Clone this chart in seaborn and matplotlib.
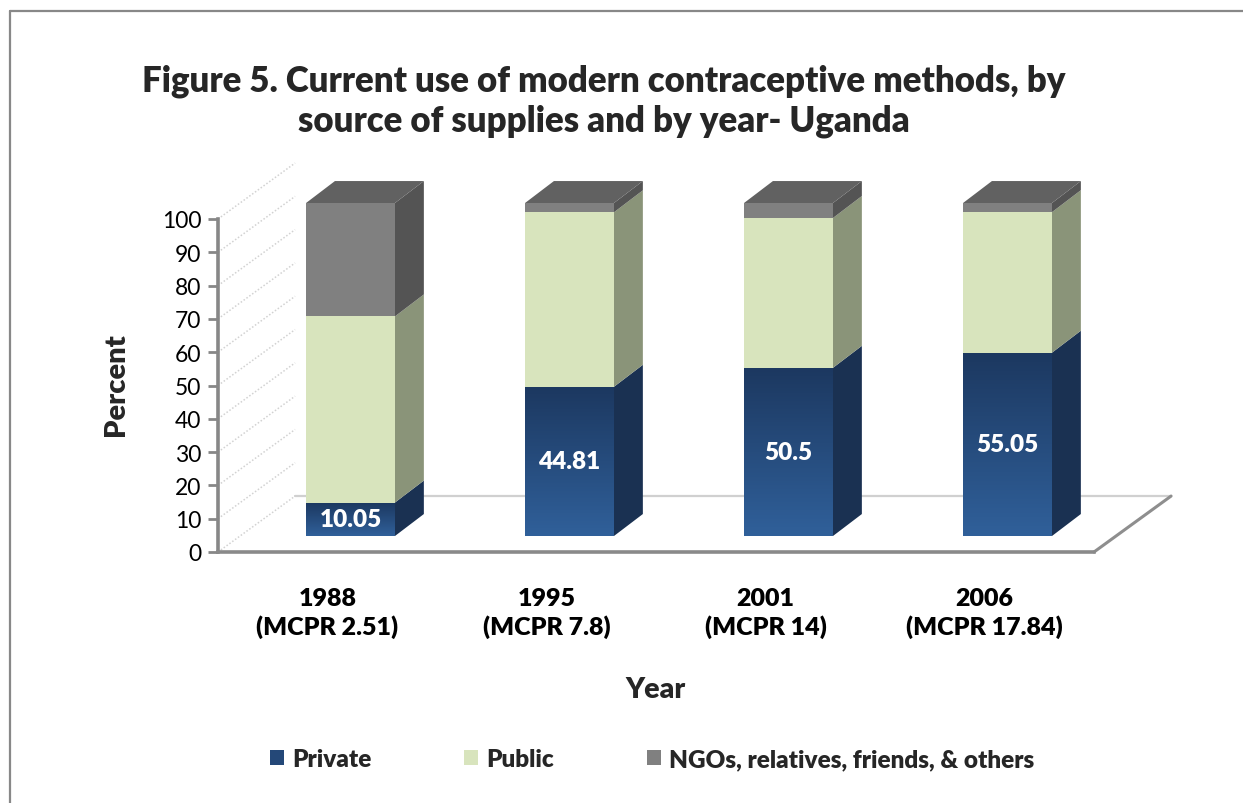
import numpy as np
import pandas as pd
import matplotlib
matplotlib.use("Agg")
import matplotlib.pyplot as plt
import seaborn as sns
from matplotlib.patches import Polygon, Patch
from matplotlib.colors import LinearSegmentedColormap
from matplotlib.lines import Line2D

# ---- data -------------------------------------------------------------
years = ["1988", "1995", "2001", "2006"]
mcpr = ["2.51", "7.8", "14", "17.84"]
private = [10.05, 44.81, 50.5, 55.05]
public = [55.9, 52.4, 45.0, 42.2]
others = [34.05, 2.79, 4.5, 2.75]
series_names = ["Private", "Public", "NGOs, relatives, friends, & others"]
y_ticks = [0, 10, 20, 30, 40, 50, 60, 70, 80, 90, 100]

# ---- style ------------------------------------------------------------
FRONT = {"Private": "#2a538a", "Public": "#d8e4bd", "Others": "#808080"}
SIDE = {"Private": "#1a3152", "Public": "#8a9479", "Others": "#545454"}
TOP_COLOR = "#616161"
AXIS_GREY = "#878787"
BOLD = "heavy"

# pseudo-3D geometry in data units (category units / percent units)
BAR_WIDTH = 0.406
SHIFT_X, SHIFT_Y = 0.105, 4.8      # bars sit part-way back on the floor
DEPTH_X, DEPTH_Y = 0.132, 6.6      # bar depth
FLOOR_X, FLOOR_Y = 0.352, 16.8     # floor depth

sns.set_theme(style="white")
plt.rcParams["font.family"] = ["Lato", "DejaVu Sans"]

W, H = 1243, 804
fig = plt.figure(figsize=(W / 100, H / 100), dpi=100)
fig.patch.set_facecolor("white")
ax = fig.add_axes([218 / W, 1 - 553 / H, 876 / W, 333 / H])
ax.set_facecolor("none")

df = pd.DataFrame({
    "label": [f"{y}\n(MCPR {m})" for y, m in zip(years, mcpr)],
    "private": private,
    "public": public,
    "others": others,
})
df["cum_public"] = df["private"] + df["public"]
df["total"] = df["cum_public"] + df["others"]


def layer(col, color):
    n0 = len(ax.patches)
    sns.barplot(data=df, x="label", y=col, color=color, width=BAR_WIDTH,
                saturation=1, errorbar=None, linewidth=0, ax=ax, zorder=3)
    new = ax.patches[n0:]
    for p in new:
        p.set_x(p.get_x() + SHIFT_X)
        p.set_y(p.get_y() + SHIFT_Y)
        p.set_clip_on(False)
    return new


# floor and side-wall grid
x_left, x_right = -0.5, len(years) - 0.5
floor = Polygon([(x_left, 0), (x_right, 0), (x_right + FLOOR_X, FLOOR_Y),
                 (x_left + FLOOR_X, FLOOR_Y)], closed=True,
                facecolor="white", edgecolor="none", zorder=0.5, clip_on=False)
ax.add_patch(floor)
ax.plot([x_left + FLOOR_X, x_right + FLOOR_X], [FLOOR_Y, FLOOR_Y],
        color="#d0d0d0", lw=1.6, zorder=0.8, clip_on=False)
ax.plot([x_right, x_right + FLOOR_X], [0, FLOOR_Y],
        color="#8e8e8e", lw=2.2, zorder=0.8, clip_on=False)
for t in y_ticks:
    ax.plot([x_left, x_left + FLOOR_X], [t, t + FLOOR_Y], color="#d2d2d2",
            lw=1.1, ls=(0, (1, 1.3)), zorder=0.7, clip_on=False)

# stacked front faces (tallest first, each layer covers the one beneath)
tot_p = layer("total", FRONT["Others"])
pub_p = layer("cum_public", FRONT["Public"])
pri_p = layer("private", FRONT["Private"])

blue_cmap = LinearSegmentedColormap.from_list("blue_face", ["#30609a", "#1c3860"])
grad = np.linspace(0, 1, 256).reshape(-1, 1)

for i in range(len(years)):
    x0 = pri_p[i].get_x()
    x1 = x0 + pri_p[i].get_width()
    base = pri_p[i].get_y()
    b_pri = base + pri_p[i].get_height()
    b_pub = base + pub_p[i].get_height()
    b_tot = base + tot_p[i].get_height()

    # gradient on the private front face
    im = ax.imshow(grad, extent=[x0, x1, base, b_pri], origin="lower",
                   cmap=blue_cmap, aspect="auto", zorder=3.5)
    im.set_clip_path(pri_p[i])
    im.set_clip_on(True)

    # side faces
    for lo, hi, key in [(base, b_pri, "Private"), (b_pri, b_pub, "Public"),
                        (b_pub, b_tot, "Others")]:
        ax.add_patch(Polygon([(x1, lo), (x1 + DEPTH_X, lo + DEPTH_Y),
                              (x1 + DEPTH_X, hi + DEPTH_Y), (x1, hi)],
                             closed=True, facecolor=SIDE[key], edgecolor="none",
                             zorder=2.5, clip_on=False))
    # top face
    ax.add_patch(Polygon([(x0, b_tot), (x0 + DEPTH_X, b_tot + DEPTH_Y),
                          (x1 + DEPTH_X, b_tot + DEPTH_Y), (x1, b_tot)],
                         closed=True, facecolor=TOP_COLOR, edgecolor="none",
                         zorder=2.5, clip_on=False))

    # value label on the private segment
    ax.text((x0 + x1) / 2, (base + b_pri) / 2, f"{private[i]:g}",
            ha="center", va="center", color="white", fontsize=17.5,
            fontweight=BOLD, zorder=5)

# axes
ax.set_xlim(x_left, x_right)
ax.set_ylim(0, 100)
ax.set_yticks(y_ticks)
ax.set_yticklabels([str(t) for t in y_ticks])
ax.tick_params(axis="y", left=True, length=7, width=2, color=AXIS_GREY,
               labelsize=16.5, pad=5, labelcolor="black")
ax.tick_params(axis="x", bottom=False, length=0, pad=25)
for lbl in ax.get_xticklabels():
    lbl.set_fontweight(BOLD)
    lbl.set_fontsize(18)
    lbl.set_linespacing(1.3)
    lbl.set_color("black")
for s in ["top", "right"]:
    ax.spines[s].set_visible(False)
ax.spines["left"].set_color(AXIS_GREY)
ax.spines["left"].set_linewidth(2.6)
ax.spines["bottom"].set_color("#8a8a8a")
ax.spines["bottom"].set_linewidth(2.6)
ax.set_xlabel("")
ax.set_ylabel("")

# titles and axis names
fig.text(604 / W, 1 - 81 / H,
         "Figure 5. Current use of modern contraceptive methods, by",
         ha="center", va="center", fontsize=25, fontweight=BOLD)
fig.text(604 / W, 1 - 121 / H, "source of supplies and by year- Uganda",
         ha="center", va="center", fontsize=25, fontweight=BOLD)
fig.text(116 / W, 1 - 385 / H, "Percent", rotation=90, ha="center",
         va="center", fontsize=21, fontweight=BOLD)
fig.text(656 / W, 1 - 690 / H, "Year", ha="center", va="center",
         fontsize=20.5, fontweight=BOLD)

# legend
handles = [Patch(facecolor=c, edgecolor="none")
           for c in ["#244878", FRONT["Public"], FRONT["Others"]]]
fig.legend(handles, series_names, loc="center", ncol=3, frameon=False,
           bbox_to_anchor=(652 / W, 1 - 760 / H), handlelength=0.58,
           handleheight=0.58, handletextpad=0.35, columnspacing=3.8,
           prop={"weight": BOLD, "size": 17.5})

# chart-area frame
fig.add_artist(Line2D([10 / W, 10 / W], [0, 1 - 12 / H], color="#888888",
                      lw=1.6, transform=fig.transFigure))
fig.add_artist(Line2D([10 / W, 1], [1 - 12 / H, 1 - 12 / H], color="#888888",
                      lw=1.6, transform=fig.transFigure))

fig.savefig("out.png", dpi=100, facecolor="white")
